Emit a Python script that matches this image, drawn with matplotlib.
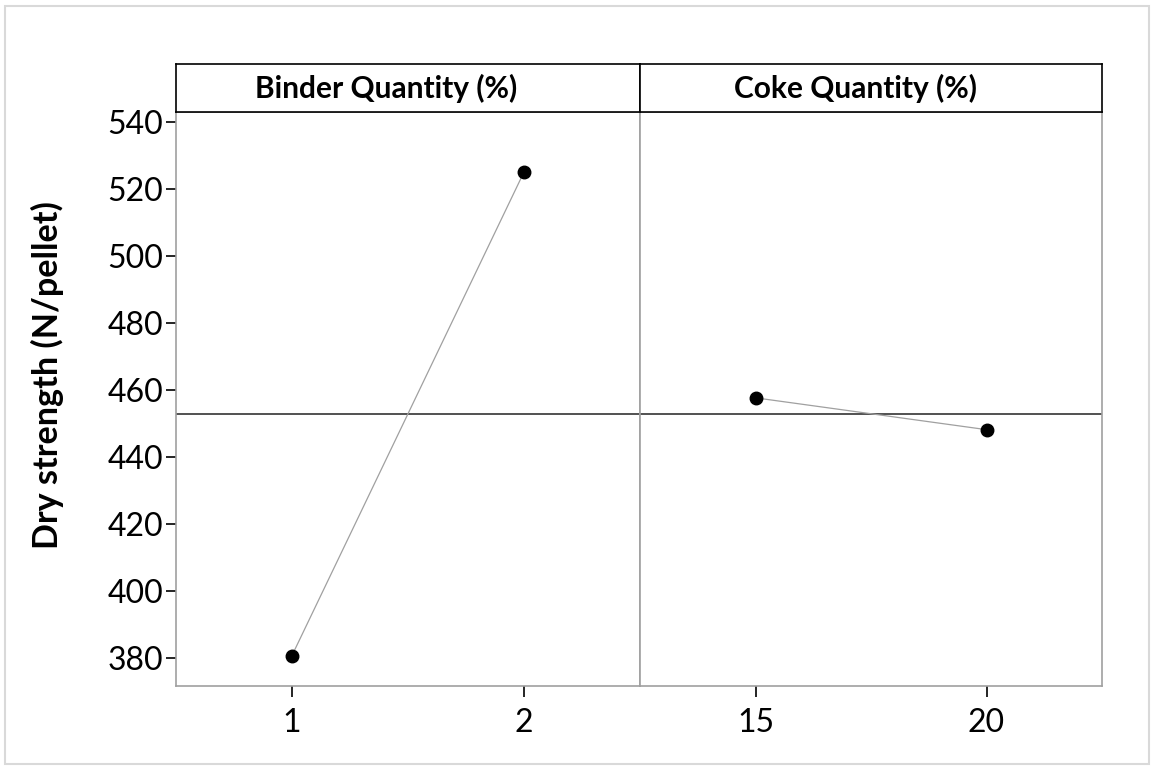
import numpy as np
import matplotlib.pyplot as plt
from matplotlib.patches import Rectangle

# Main effects data
factors = ['Binder Quantity (%)', 'Coke Quantity (%)']
levels = [['1', '2'], ['15', '20']]
means = [[380.8, 525.1], [457.7, 448.2]]
yticks = [380, 400, 420, 440, 460, 480, 500, 520, 540]

plt.rcParams['font.family'] = ['Lato', 'DejaVu Sans']

fig = plt.figure(figsize=(11.54, 7.69), dpi=100)

# light frame around the whole figure
fig.patches.append(Rectangle((5 / 1154, 5 / 769), 1144 / 1154, 758 / 769,
                             transform=fig.transFigure, fill=False,
                             edgecolor='#d9d9d9', linewidth=1.5))

grand_mean = np.mean(np.concatenate([np.array(m) for m in means]))

lefts = [176 / 1154, 640 / 1154]
widths = [464 / 1154, 462 / 1154]
title_x = [386 / 1154, 856 / 1154]
plot_bottom, plot_height = 1 - 686 / 769, 574 / 769
head_bottom, head_height = 1 - 112 / 769, 48 / 769

for i, (name, lev, vals) in enumerate(zip(factors, levels, means)):
    ax = fig.add_axes([lefts[i], plot_bottom, widths[i], plot_height])
    x = np.arange(len(lev))
    ax.axhline(grand_mean, color='#333333', linewidth=1.2, zorder=1)
    ax.plot(x, vals, color='#a0a0a0', linewidth=0.9, zorder=2)
    ax.plot(x, vals, 'o', color='black', markersize=9, zorder=3)
    ax.set_xlim(-0.5, 1.5)
    ax.set_ylim(371.7, 543.0)
    ax.set_xticks(x)
    ax.set_xticklabels(lev, fontsize=23)
    for s in ax.spines.values():
        s.set_color('#a0a0a0')
        s.set_linewidth(1.2)
    ax.tick_params(axis='x', length=8, width=1.2, color='black', pad=8)
    if i == 0:
        ax.set_yticks(yticks)
        ax.set_yticklabels([str(v) for v in yticks], fontsize=23)
        ax.tick_params(axis='y', length=7, width=1.2, color='black', pad=2)
    else:
        ax.set_yticks([])

    hx = fig.add_axes([lefts[i], head_bottom, widths[i], head_height])
    hx.set_xticks([])
    hx.set_yticks([])
    for s in hx.spines.values():
        s.set_color('black')
        s.set_linewidth(1.2)
    fig.text(title_x[i], head_bottom + head_height / 2, name, ha='center',
             va='center', fontsize=21.5, fontweight='bold')

fig.text(47 / 1154, 1 - 375 / 769, 'Dry strength (N/pellet)', rotation=90,
         ha='center', va='center', fontsize=24.6, fontweight='bold')

fig.savefig('out.png', dpi=100)
